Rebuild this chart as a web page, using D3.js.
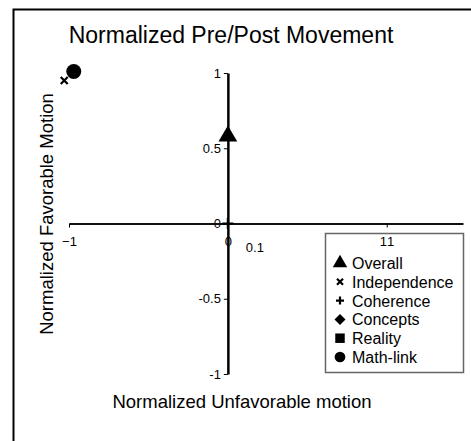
<!DOCTYPE html>
<html>
<head>
<meta charset="utf-8">
<script src="https://cdn.jsdelivr.net/npm/d3@7"></script>
<style>
body { margin: 0; background: #fff; }
text { font-family: "Liberation Sans", Arial, sans-serif; fill: #000; }
</style>
</head>
<body>
<div id="chart"></div>
<script>
var width = 471, height = 441;

// series: one point each (null = not plotted)
var seriesNames = ["Overall", "Independence", "Coherence", "Concepts", "Reality", "Math-link"];
var seriesX = [0, -1.03, 0, null, null, -0.97];
var seriesY = [0.58, 0.95, 0, null, null, 1.01];
var seriesSymbols = ["triangle", "cross", "plus", "diamond", "square", "circle"];

var xTicks = [-1, 0, 1];
var yTicks = [-1, -0.5, 0, 0.5, 1];
// stray labels that sit on the plot
var noteText = ["0.1", "1"];
var noteX = [0.17, 1.025];
var noteY = [-0.19, -0.148];

var svg = d3.select("#chart").append("svg")
    .attr("width", width)
    .attr("height", height);

// outer frame
svg.append("rect")
    .attr("x", 13.5).attr("y", 9.5)
    .attr("width", 470).attr("height", 440)
    .attr("fill", "none")
    .attr("stroke", "#000")
    .attr("stroke-width", 2);

var x = d3.scaleLinear().domain([-1, 1.48]).range([69, 463]);
var y = d3.scaleLinear().domain([-1, 1]).range([374, 73]);

svg.append("text")
    .attr("x", 231).attr("y", 43)
    .attr("text-anchor", "middle")
    .style("font-size", "23px")
    .text("Normalized Pre/Post Movement");

function symbolPath(kind, size) {
    var s = size / 2;
    if (kind === "cross") {
        return "M" + (-s) + "," + (-s) + "L" + s + "," + s + "M" + s + "," + (-s) + "L" + (-s) + "," + s;
    }
    if (kind === "plus") {
        return "M" + (-s) + ",0L" + s + ",0M0," + (-s) + "L0," + s;
    }
    if (kind === "diamond") {
        return "M0," + (-s) + "L" + s + ",0L0," + s + "L" + (-s) + ",0Z";
    }
    var map = { triangle: d3.symbolTriangle, square: d3.symbolSquare, circle: d3.symbolCircle };
    return d3.symbol().type(map[kind]).size(size * size * 0.9)();
}

function drawMarker(g, kind, size) {
    var stroked = kind === "cross" || kind === "plus";
    g.append("path")
        .attr("d", symbolPath(kind, size))
        .attr("fill", stroked ? "none" : "#000")
        .attr("stroke", "#000")
        .attr("stroke-width", stroked ? 2.2 : 0);
}

// legend (drawn first so the tick labels sit on top of it)
var legend = svg.append("g").attr("transform", "translate(325,233)");
legend.append("rect")
    .attr("x", 0.5).attr("y", 0.5)
    .attr("width", 138).attr("height", 139)
    .attr("fill", "#fff")
    .attr("stroke", "#666")
    .attr("stroke-width", 1.5);

seriesNames.forEach(function (name, i) {
    var row = legend.append("g").attr("transform", "translate(15," + (30 + i * 18.8) + ")");
    var sz = { cross: 6, plus: 8, diamond: 11 }[seriesSymbols[i]] || 10;
    drawMarker(row, seriesSymbols[i], sz);
    row.append("text")
        .attr("x", 12).attr("y", 6)
        .style("font-size", "16px")
        .text(name);
});

// y axis through x = 0
var yAxis = svg.append("g")
    .attr("transform", "translate(" + x(0) + ",0)")
    .call(d3.axisLeft(y).tickValues(yTicks).tickSize(4).tickSizeOuter(0).tickFormat(function (d) { return d; }));
yAxis.select(".domain").attr("stroke", "#000").attr("stroke-width", 2.5);
yAxis.selectAll(".tick line").attr("stroke", "#000");
yAxis.selectAll(".tick text")
    .attr("x", -7)
    .style("fill", "#000")
    .style("font-size", "13px")
    .style("font-family", "Liberation Sans, Arial, sans-serif");

// x axis through y = 0
var xAxis = svg.append("g")
    .attr("transform", "translate(0," + y(0) + ")")
    .call(d3.axisBottom(x).tickValues(xTicks).tickSize(4).tickSizeOuter(0).tickFormat(d3.format("d")));
xAxis.select(".domain").attr("stroke", "#111").attr("stroke-width", 2);
xAxis.selectAll(".tick line").attr("stroke", "#000");
xAxis.selectAll(".tick text")
    .attr("y", 13)
    .attr("dx", function (d) { return d === 1 ? -4 : 0; })
    .style("fill", "#000")
    .style("font-size", "13px")
    .style("font-family", "Liberation Sans, Arial, sans-serif");

// axis titles
svg.append("text")
    .attr("transform", "translate(53,214) rotate(-90)")
    .attr("text-anchor", "middle")
    .style("font-size", "18.5px")
    .text("Normalized Favorable Motion");

svg.append("text")
    .attr("x", 242).attr("y", 408)
    .attr("text-anchor", "middle")
    .style("font-size", "18.5px")
    .text("Normalized Unfavorable motion");

// notes
noteText.forEach(function (t, i) {
    svg.append("text")
        .attr("x", x(noteX[i])).attr("y", y(noteY[i]))
        .attr("text-anchor", "middle")
        .style("font-size", "13px")
        .text(t);
});

// data points
seriesNames.forEach(function (name, i) {
    if (seriesX[i] === null) return;
    var g = svg.append("g").attr("transform", "translate(" + x(seriesX[i]) + "," + y(seriesY[i]) + ")");
    var size = { triangle: 13, cross: 7, plus: 11, circle: 14 }[seriesSymbols[i]];
    drawMarker(g, seriesSymbols[i], size);
});
</script>
</body>
</html>
